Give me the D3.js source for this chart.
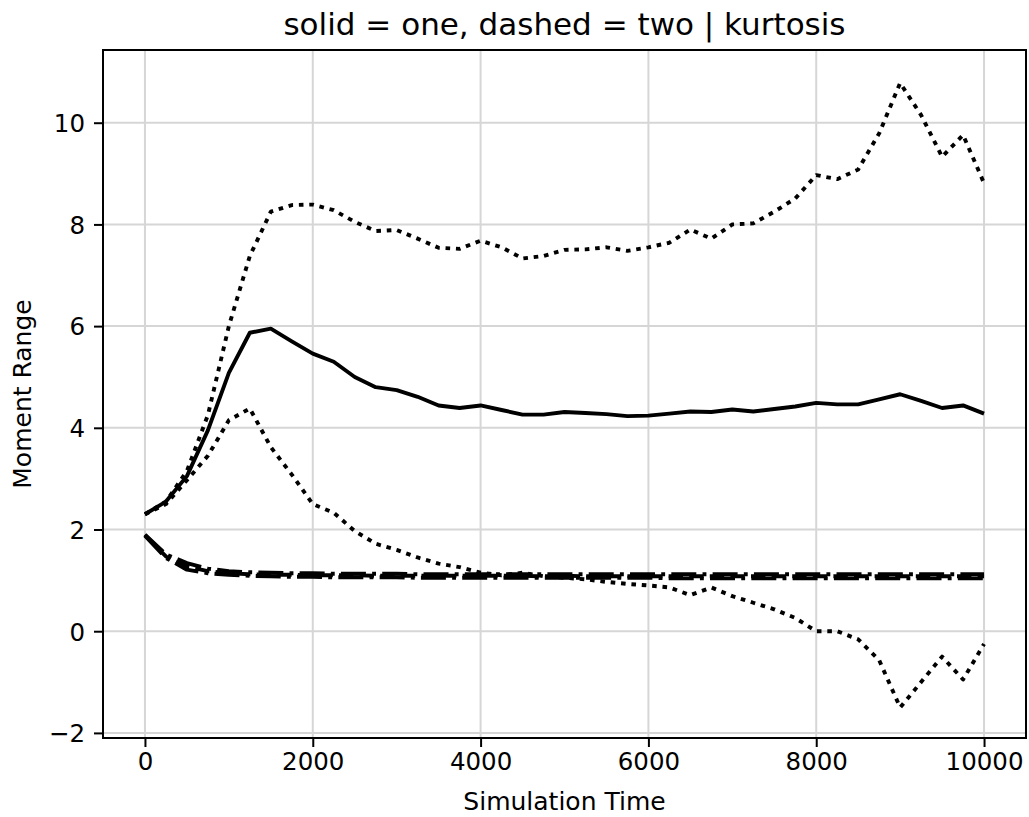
<!DOCTYPE html>
<html>
<head>
<meta charset="utf-8">
<script src="https://cdn.jsdelivr.net/npm/d3@7"></script>
<style>
  html, body { margin: 0; padding: 0; background: #fff; }
  svg text { font-family: "DejaVu Sans", sans-serif; fill: #000; }
</style>
</head>
<body>
<svg id="chart" width="1029" height="817"></svg>
<script>
// ---- data ----
const times = d3.range(0, 10001, 250);
const xTicks = [0, 2000, 4000, 6000, 8000, 10000];
const yTicks = [-2, 0, 2, 4, 6, 8, 10];

const oneMean = [2.30, 2.55, 3.05, 3.95, 5.08, 5.87, 5.95, 5.70, 5.46, 5.30,
  5.00, 4.80, 4.74, 4.61, 4.44, 4.39, 4.44, 4.35, 4.26, 4.26,
  4.31, 4.29, 4.27, 4.23, 4.24, 4.28, 4.32, 4.31, 4.36, 4.32,
  4.37, 4.42, 4.49, 4.46, 4.46, 4.56, 4.66, 4.53, 4.39, 4.44, 4.28];
const oneUpper = [2.30, 2.55, 3.15, 4.25, 6.00, 7.38, 8.25, 8.38, 8.39, 8.28,
  8.05, 7.87, 7.89, 7.72, 7.54, 7.52, 7.68, 7.55, 7.33, 7.38,
  7.50, 7.51, 7.55, 7.48, 7.55, 7.64, 7.90, 7.72, 8.00, 8.02,
  8.25, 8.51, 8.97, 8.89, 9.08, 9.79, 10.78, 10.15, 9.33, 9.76, 8.81];
const oneLower = [2.30, 2.50, 2.97, 3.45, 4.15, 4.38, 3.62, 3.08, 2.50, 2.33,
  1.97, 1.72, 1.60, 1.45, 1.33, 1.26, 1.15, 1.10, 1.15, 1.08,
  1.05, 1.02, 0.97, 0.93, 0.90, 0.86, 0.71, 0.86, 0.69, 0.56,
  0.43, 0.26, 0.00, 0.00, -0.16, -0.57, -1.50, -1.00, -0.50, -0.95, -0.25];
const twoMean = [1.89, 1.47, 1.27, 1.18, 1.14, 1.12, 1.11, 1.11, 1.10, 1.10,
  1.10, 1.09, 1.09, 1.09, 1.09, 1.09, 1.09, 1.09, 1.09, 1.08,
  1.09, 1.08, 1.08, 1.08, 1.08, 1.08, 1.08, 1.08, 1.08, 1.08,
  1.08, 1.08, 1.08, 1.08, 1.08, 1.08, 1.08, 1.08, 1.08, 1.08, 1.08];
const twoUpper = [1.90, 1.51, 1.34, 1.23, 1.18, 1.16, 1.15, 1.14, 1.14, 1.13,
  1.13, 1.13, 1.13, 1.12, 1.12, 1.12, 1.12, 1.12, 1.12, 1.12,
  1.12, 1.12, 1.12, 1.12, 1.12, 1.12, 1.12, 1.12, 1.12, 1.12,
  1.12, 1.12, 1.12, 1.12, 1.12, 1.12, 1.12, 1.12, 1.12, 1.12, 1.12];
const twoLower = [1.88, 1.44, 1.21, 1.14, 1.11, 1.09, 1.08, 1.07, 1.07, 1.06,
  1.06, 1.06, 1.06, 1.05, 1.05, 1.05, 1.05, 1.05, 1.05, 1.05,
  1.05, 1.05, 1.05, 1.05, 1.05, 1.04, 1.04, 1.04, 1.04, 1.04,
  1.04, 1.04, 1.04, 1.04, 1.04, 1.04, 1.04, 1.04, 1.04, 1.04, 1.04];

const titleText = "solid = one, dashed = two | kurtosis";
const xLabelText = "Simulation Time";
const yLabelText = "Moment Range";

// ---- layout ----
const svg = d3.select("#chart");
const L = 103, R = 1026, T = 50, B = 738;
const x = d3.scaleLinear().domain([-500, 10500]).range([L, R]);
const y = d3.scaleLinear().domain([-2.1, 11.43]).range([B, T]);

const defs = svg.append("defs");
defs.append("clipPath").attr("id", "clip")
  .append("rect").attr("x", L).attr("y", T).attr("width", R - L).attr("height", B - T);

// grid
const grid = svg.append("g");
grid.selectAll(".gx").data(xTicks).enter().append("line")
  .attr("x1", d => x(d)).attr("x2", d => x(d)).attr("y1", T).attr("y2", B)
  .attr("stroke", "#d6d6d6").attr("stroke-width", 2);
grid.selectAll(".gy").data(yTicks).enter().append("line")
  .attr("x1", L).attr("x2", R).attr("y1", d => y(d)).attr("y2", d => y(d))
  .attr("stroke", "#d6d6d6").attr("stroke-width", 2);

// lines
const series = [
  { v: twoLower, dash: "25,6.2,3.9,6.2" },
  { v: twoUpper, dash: "25,6.2,3.9,6.2" },
  { v: twoMean, dash: "14.4,6.2" },
  { v: oneLower, dash: "4.6,5.8" },
  { v: oneUpper, dash: "4.6,5.8" },
  { v: oneMean, dash: null }
];
const line = d3.line().x((d, i) => x(times[i])).y(d => y(d));
const lg = svg.append("g").attr("clip-path", "url(#clip)");
series.forEach(s => {
  lg.append("path").datum(s.v)
    .attr("d", line)
    .attr("fill", "none")
    .attr("stroke", "#000")
    .attr("stroke-width", 3.9)
    .attr("stroke-linejoin", "round")
    .attr("stroke-dasharray", s.dash);
});

// axes
const xAxis = d3.axisBottom(x).tickValues(xTicks).tickSize(9).tickPadding(6)
  .tickFormat(d3.format("d"));
const yAxis = d3.axisLeft(y).tickValues(yTicks).tickSize(9).tickPadding(9)
  .tickFormat(d => d < 0 ? "\u2212" + Math.abs(d) : String(d));

const gx = svg.append("g").attr("transform", `translate(0,${B})`).call(xAxis);
const gy = svg.append("g").attr("transform", `translate(${L},0)`).call(yAxis);
[gx, gy].forEach(g => {
  g.select(".domain").remove();
  g.selectAll(".tick line").attr("stroke", "#000").attr("stroke-width", 2);
  g.selectAll(".tick text").attr("font-size", 24.5).attr("font-family", "DejaVu Sans");
});
gy.selectAll(".tick text").attr("dy", "0.36em");

// spines
svg.append("rect").attr("x", L).attr("y", T).attr("width", R - L).attr("height", B - T)
  .attr("fill", "none").attr("stroke", "#000").attr("stroke-width", 2);

// labels
svg.append("text").attr("x", (L + R) / 2).attr("y", 35).attr("text-anchor", "middle")
  .attr("font-size", 31).text(titleText);
svg.append("text").attr("x", (L + R) / 2).attr("y", 810).attr("text-anchor", "middle")
  .attr("font-size", 25).text(xLabelText);
svg.append("text").attr("transform", `translate(31,${(T + B) / 2}) rotate(-90)`)
  .attr("text-anchor", "middle").attr("font-size", 25).text(yLabelText);
</script>
</body>
</html>
